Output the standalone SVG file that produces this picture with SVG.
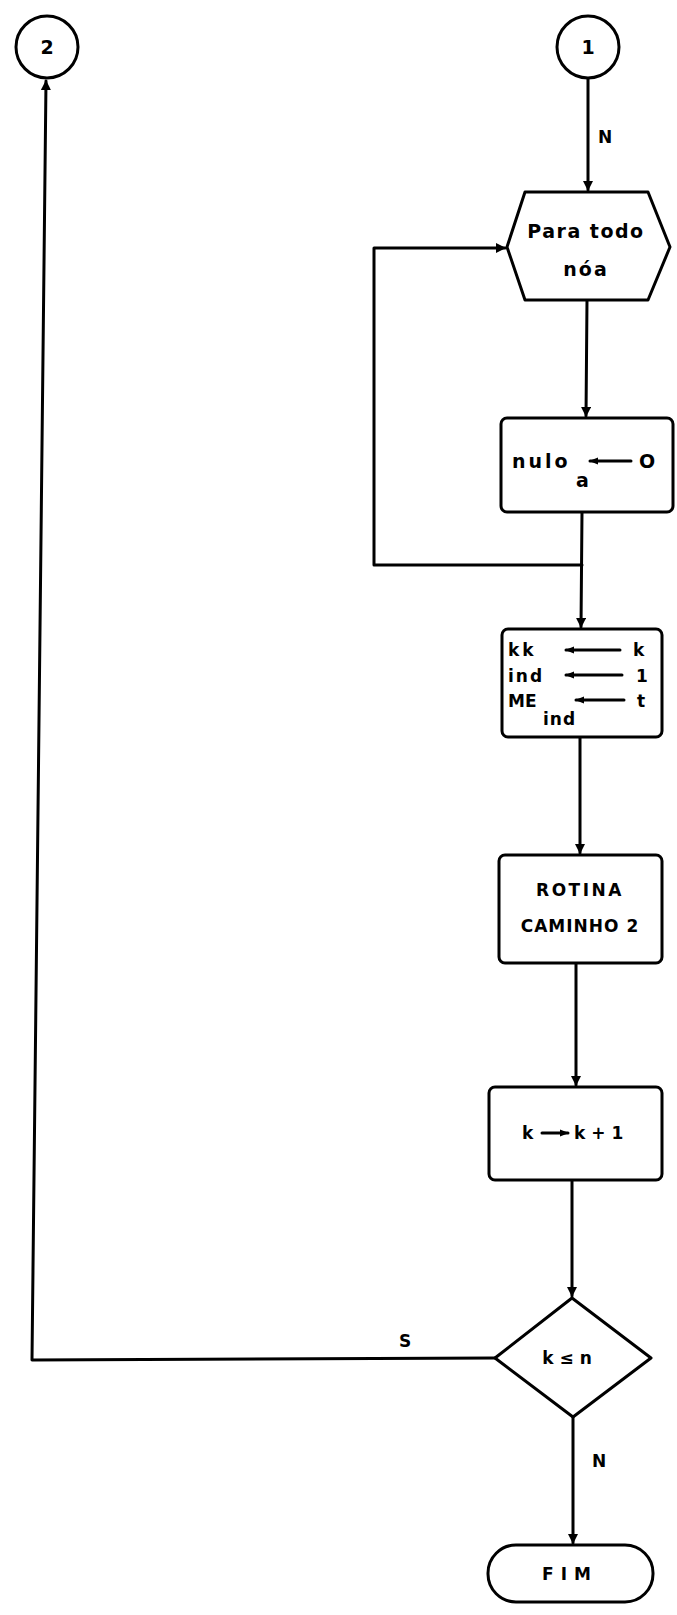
<svg xmlns="http://www.w3.org/2000/svg" width="677" height="1615" viewBox="0 0 677 1615">
<defs>
<style>
.s{fill:none;stroke:#000;stroke-width:3;stroke-linejoin:round;stroke-linecap:round}
.n{fill:#fff;stroke:#000;stroke-width:3;stroke-linejoin:round}
.t{font-family:"DejaVu Sans","Liberation Sans",sans-serif;font-weight:bold;fill:#000}
.t19{font-size:19px}
.t17{font-size:17px}
.c{text-anchor:middle}
</style>
<marker id="ah" viewBox="0 0 10 10" refX="9" refY="5" markerWidth="10" markerHeight="10" markerUnits="userSpaceOnUse" orient="auto">
<path d="M0,0 L10,5 L0,10 z" fill="#000"/>
</marker>
<marker id="ahs" viewBox="0 0 10 10" refX="9" refY="5" markerWidth="9" markerHeight="9" markerUnits="userSpaceOnUse" orient="auto">
<path d="M0,1 L10,5 L0,9 z" fill="#000"/>
</marker>
</defs>
<rect width="677" height="1615" fill="#fff"/>

<g id="connectors">
<path class="s" d="M588,78 L588,190" marker-end="url(#ah)"/>
<path class="s" d="M587,300 L586,416" marker-end="url(#ah)"/>
<path class="s" d="M582,565 L374,565 L374,248 L505,248" marker-end="url(#ah)"/>
<path class="s" d="M582,512 L581,627" marker-end="url(#ah)"/>
<path class="s" d="M580,737 L580,853" marker-end="url(#ah)"/>
<path class="s" d="M576,963 L576,1085" marker-end="url(#ah)"/>
<path class="s" d="M572,1180 L572,1296" marker-end="url(#ah)"/>
<path class="s" d="M495,1358 L32,1360 L46,81" marker-end="url(#ah)"/>
<path class="s" d="M573,1417 L573,1543" marker-end="url(#ah)"/>
<text class="t t17" x="598" y="143">N</text>
<text class="t t17" x="399" y="1347">S</text>
<text class="t t17" x="592" y="1467">N</text>
</g>

<g id="node-2">
<circle class="n" cx="47" cy="47" r="31"/>
<text class="t t19 c" x="47" y="54">2</text>
</g>

<g id="node-1">
<circle class="n" cx="588" cy="47" r="31"/>
<text class="t t19 c" x="588" y="54">1</text>
</g>

<g id="node-para">
<polygon class="n" points="525,192 648,192 670,247 648,300 525,300 507,247"/>
<text class="t t19 c" x="586" y="238" letter-spacing="1.5">Para  todo</text>
<text class="t t19 c" x="586" y="276" letter-spacing="2">nóa</text>
</g>

<g id="node-nulo">
<rect class="n" x="501" y="418" width="172" height="94" rx="6"/>
<text class="t t19" x="512" y="468" letter-spacing="3">nulo</text>
<text class="t t19" x="576" y="487">a</text>
<path class="s" d="M631,461 L590,461" marker-end="url(#ahs)"/>
<text class="t t19" x="639" y="468">O</text>
</g>

<g id="node-kk">
<rect class="n" x="502" y="629" width="160" height="108" rx="6"/>
<text class="t t17" x="508" y="656" letter-spacing="3">kk</text>
<path class="s" d="M620,650 L566,650" marker-end="url(#ahs)"/>
<text class="t t17" x="633" y="656">k</text>
<text class="t t17" x="508" y="682" letter-spacing="2">ind</text>
<path class="s" d="M622,675 L566,675" marker-end="url(#ahs)"/>
<text class="t t17" x="636" y="682">1</text>
<text class="t t17" x="508" y="707">ME</text>
<text class="t t17" x="543" y="725" letter-spacing="1">ind</text>
<path class="s" d="M624,700 L576,700" marker-end="url(#ahs)"/>
<text class="t t17" x="637" y="707">t</text>
</g>

<g id="node-rotina">
<rect class="n" x="499" y="855" width="163" height="108" rx="6"/>
<text class="t t17 c" x="580" y="896" letter-spacing="2.5">ROTINA</text>
<text class="t t17 c" x="580" y="932" letter-spacing="1">CAMINHO 2</text>
</g>

<g id="node-inc">
<rect class="n" x="489" y="1087" width="173" height="93" rx="6"/>
<text class="t t17" x="522" y="1139">k</text>
<path class="s" d="M542,1133 L568,1133" marker-end="url(#ahs)"/>
<text class="t t17" x="574" y="1139">k + 1</text>
</g>

<g id="node-cond">
<polygon class="n" points="572,1298 651,1358 573,1417 495,1358"/>
<text class="t t17 c" x="567" y="1364">k ≤ n</text>
</g>

<g id="node-fim">
<rect class="n" x="488" y="1545" width="165" height="57" rx="28"/>
<text class="t t17 c" x="570" y="1580" letter-spacing="7">FIM</text>
</g>
</svg>
